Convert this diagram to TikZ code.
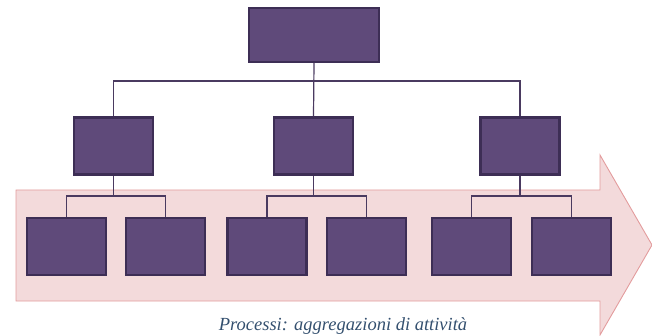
\documentclass[tikz,border=0pt]{standalone}
\usepackage{fontspec}
\setmainfont{Liberation Serif}
\begin{document}
\begin{tikzpicture}[x=1pt,y=-1pt,
  box/.style={draw=boxline,fill=boxfill,line width=2.4pt,inner sep=0pt},
  conn/.style={draw=connline,line width=1.2pt}]
\definecolor{boxfill}{HTML}{5F4A7A}
\definecolor{boxline}{HTML}{3D2E55}
\definecolor{connline}{HTML}{4A3A60}
\definecolor{arrowfill}{HTML}{F3DADB}
\definecolor{arrowline}{HTML}{E39C9D}
\definecolor{textcol}{HTML}{34506F}
\useasboundingbox (0,0) rectangle (652,336);
% arrow
\fill[arrowfill,draw=arrowline,line width=0.9pt]
  (16,190) -- (600,190) -- (600,155) -- (652,245) -- (600,335) -- (600,301) -- (16,301) -- cycle;
% boxes
\node[box,minimum width=130pt,minimum height=54pt] (top) at (314,35) {};
\foreach \n/\x in {m1/113.5,m2/313.5,m3/520}
  \node[box,minimum width=79pt,minimum height=57pt] (\n) at (\x,146) {};
\foreach \n/\x in {b1/66.5,b2/165.5,b3/267,b4/366.5,b5/471.5,b6/571.5}
  \node[box,minimum width=79pt,minimum height=57pt] (\n) at (\x,246.5) {};
% connectors
\coordinate (hl) at (113.5,81);
\coordinate (hr) at (520,81);
\coordinate (j1) at (113.5,196);
\coordinate (j2) at (313.5,196);
\coordinate (j3) at (520,196);
\draw[conn] (top.south) -- (m2.north);
\draw[conn] (m1.north) |- (hl) -- (hr) -- (m3.north);
\foreach \m/\a/\b/\j in {m1/b1/b2/j1,m2/b3/b4/j2,m3/b5/b6/j3}{
  \draw[conn] (\m.south) -- (\j);
  \draw[conn] (\a.north) |- (\j) -| (\b.north);
}
\node[text=textcol,font=\itshape\fontsize{18.5}{18.5}\selectfont,anchor=base] (cap) at (343,330) {Processi: aggregazioni di attività};
\end{tikzpicture}
\end{document}
